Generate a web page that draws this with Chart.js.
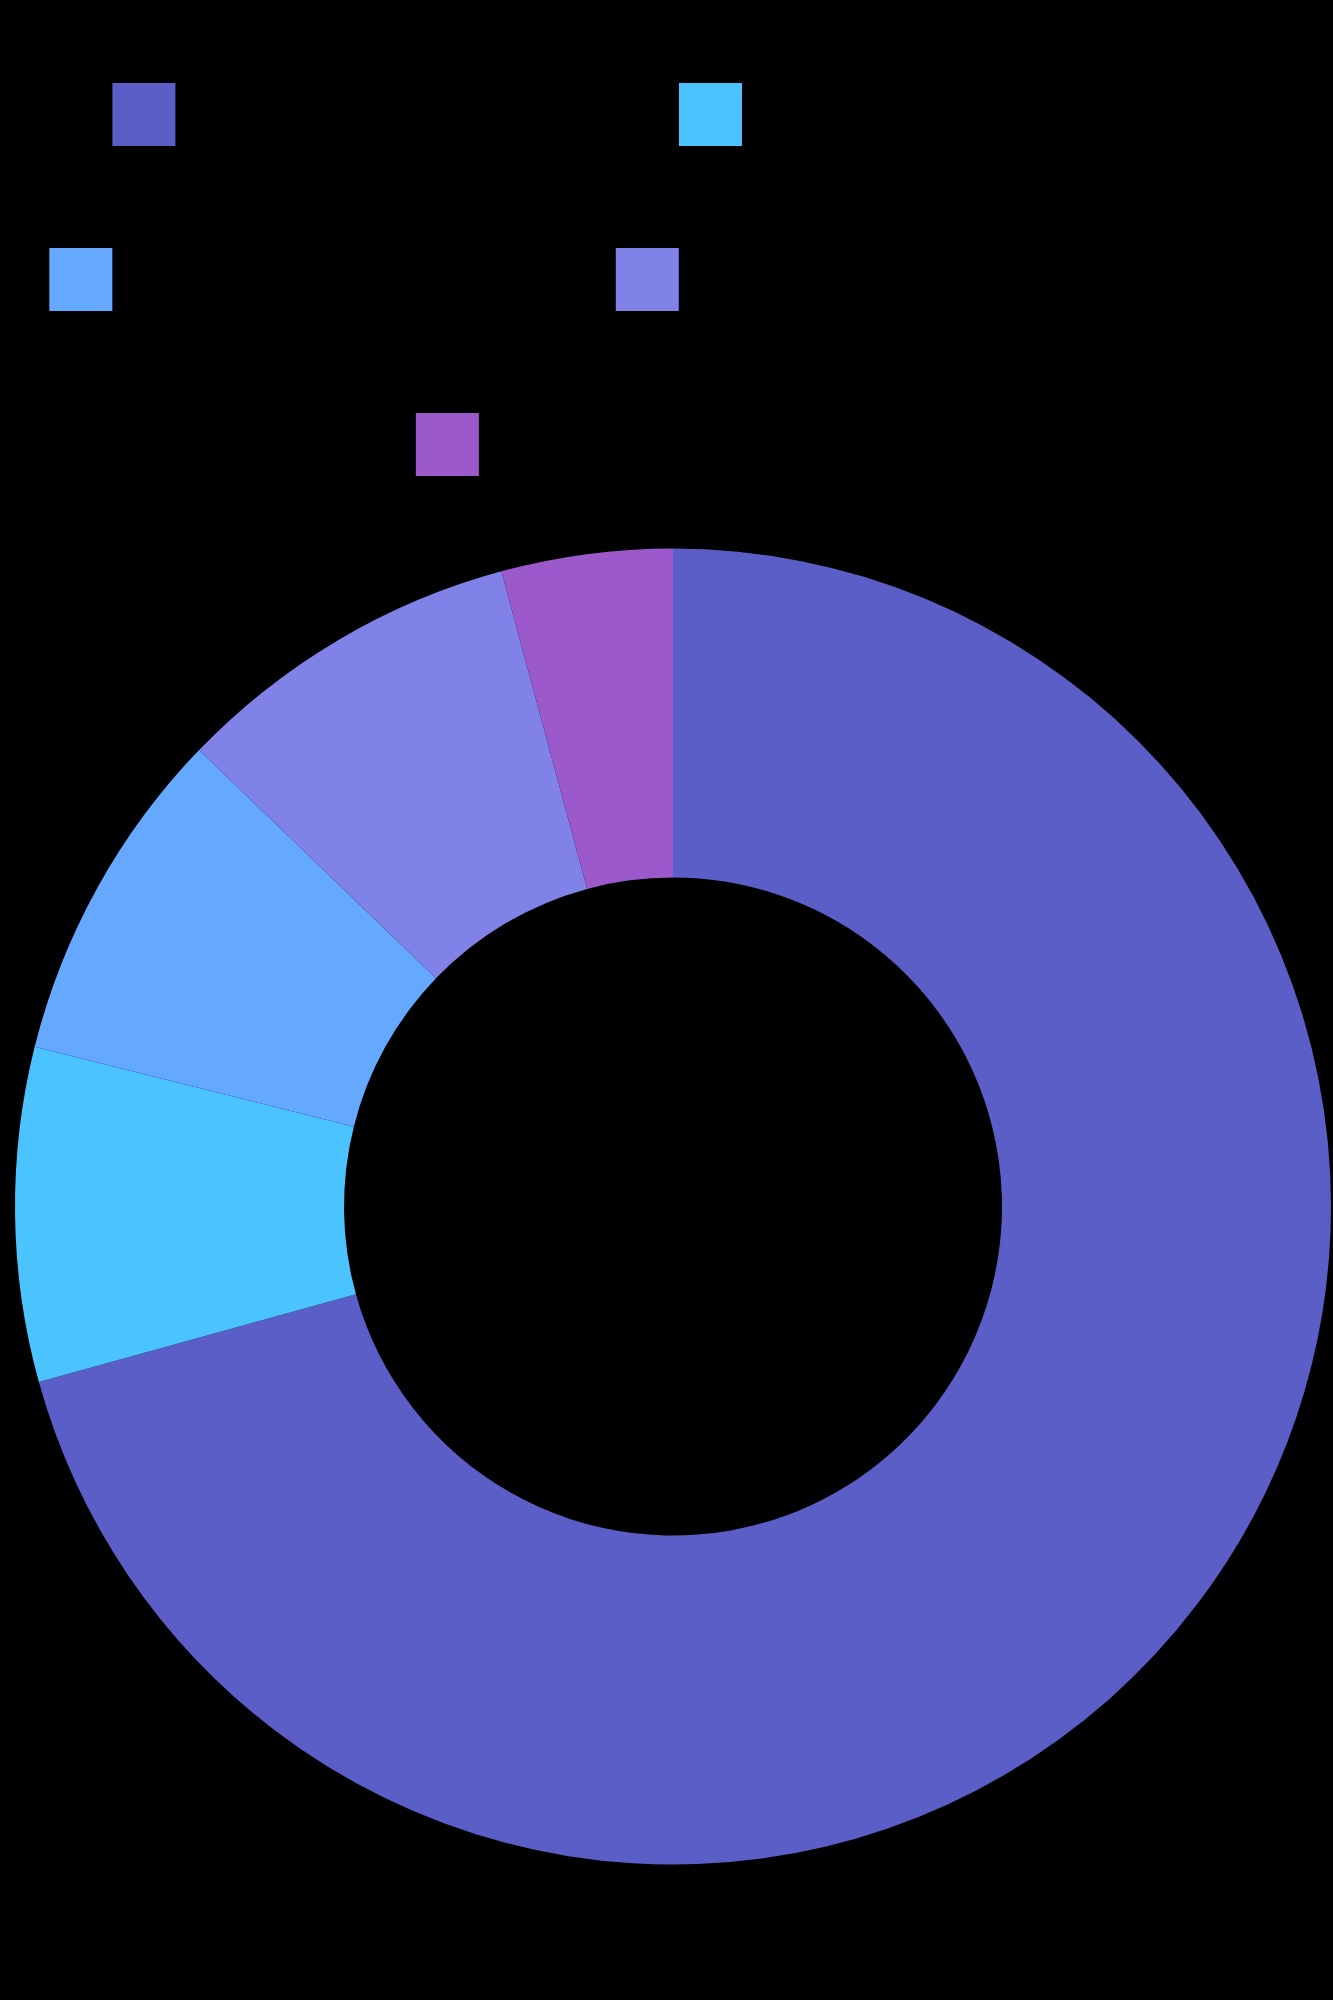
<!DOCTYPE html>
<html>
<head>
<meta charset="utf-8">
<script src="https://cdn.jsdelivr.net/npm/chart.js@4.4.1/dist/chart.umd.min.js"></script>
<style>
    html, body { margin: 0; padding: 0; background: #000; overflow: hidden; }
    .chart-wrap { width: 1333px; height: 2000px; position: relative; }
</style>
</head>
<body>
<div class="chart-wrap"><canvas id="donutChart"></canvas></div>
<script>
const categories = ['Dining', 'Health', 'Extras', 'Affiliates', 'Debts'];
const shares = [70.7, 8.2, 8.3, 8.6, 4.2];
const sliceColors = ['#5b5ec7', '#4ac3ff', '#64a8ff', '#8082e8', '#9b59cb'];

new Chart(document.getElementById('donutChart'), {
    type: 'doughnut',
    data: {
        labels: categories,
        datasets: [{ data: shares, backgroundColor: sliceColors, borderWidth: 0, hoverOffset: 0 }]
    },
    options: {
        responsive: true, maintainAspectRatio: false, animation: false,
        cutout: '50%',
        layout: { padding: { top: 22, left: 15, right: 2, bottom: 114 } },
        plugins: {
            legend: {
                position: 'top',
                labels: {
                    color: '#000', boxWidth: 63, boxHeight: 63, padding: 20,
                    font: { family: 'Liberation Sans', size: 145 }
                }
            },
            tooltip: { enabled: false }
        }
    }
});
</script>
</body>
</html>
